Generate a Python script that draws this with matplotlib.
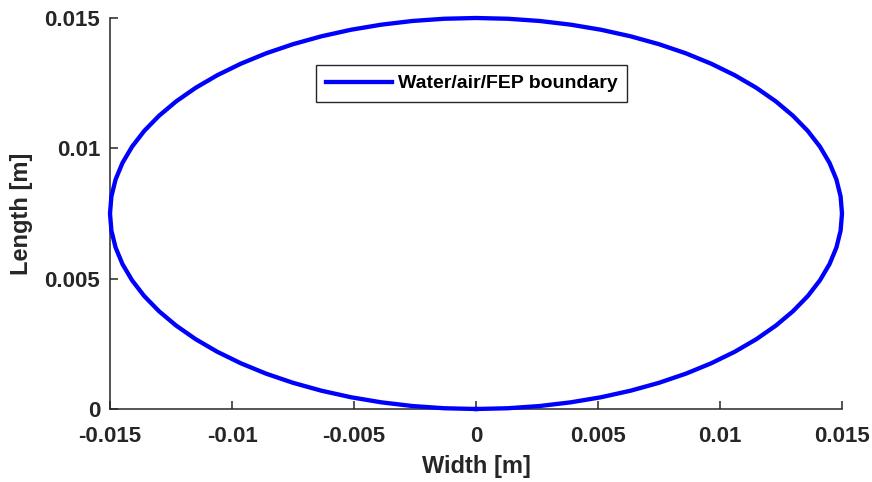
import matplotlib
matplotlib.use("Agg")
import matplotlib.pyplot as plt
from matplotlib.ticker import FuncFormatter

# boundary outline, traced counter-clockwise from the bottom point
width = [
    0, 0.001307, 0.002605, 0.003882, 0.005130, 0.006339, 0.0075, 0.008604,
    0.009642, 0.010607, 0.011491, 0.012287, 0.012990, 0.013595, 0.014095,
    0.014489, 0.014772, 0.014943, 0.015, 0.014943, 0.014772, 0.014489,
    0.014095, 0.013595, 0.012990, 0.012287, 0.011491, 0.010607, 0.009642,
    0.008604, 0.0075, 0.006339, 0.005130, 0.003882, 0.002605, 0.001307, 0,
    -0.001307, -0.002605, -0.003882, -0.005130, -0.006339, -0.0075, -0.008604,
    -0.009642, -0.010607, -0.011491, -0.012287, -0.012990, -0.013595,
    -0.014095, -0.014489, -0.014772, -0.014943, -0.015, -0.014943, -0.014772,
    -0.014489, -0.014095, -0.013595, -0.012990, -0.012287, -0.011491,
    -0.010607, -0.009642, -0.008604, -0.0075, -0.006339, -0.005130, -0.003882,
    -0.002605, -0.001307, 0,
]
length = [
    0, 0.000029, 0.000114, 0.000256, 0.000452, 0.000703, 0.001005, 0.001356,
    0.001755, 0.002197, 0.002679, 0.003198, 0.00375, 0.00433, 0.004935,
    0.005559, 0.006198, 0.006846, 0.0075, 0.008154, 0.008802, 0.009441,
    0.010065, 0.01067, 0.01125, 0.011802, 0.012321, 0.012803, 0.013245,
    0.013644, 0.013995, 0.014297, 0.014548, 0.014744, 0.014886, 0.014971,
    0.015, 0.014971, 0.014886, 0.014744, 0.014548, 0.014297, 0.013995,
    0.013644, 0.013245, 0.012803, 0.012321, 0.011802, 0.01125, 0.01067,
    0.010065, 0.009441, 0.008802, 0.008154, 0.0075, 0.006846, 0.006198,
    0.005559, 0.004935, 0.00433, 0.00375, 0.003198, 0.002679, 0.002197,
    0.001755, 0.001356, 0.001005, 0.000703, 0.000452, 0.000256, 0.000114,
    0.000029, 0,
]
x_ticks = [-0.015, -0.01, -0.005, 0, 0.005, 0.01, 0.015]
y_ticks = [0, 0.005, 0.01, 0.015]

plt.rcParams["font.family"] = ["Liberation Sans", "DejaVu Sans"]
plt.rcParams["font.weight"] = "bold"
plt.rcParams["axes.unicode_minus"] = False

axis_col = "#262626"

fig = plt.figure(figsize=(8.72, 4.82), dpi=100)
ax = fig.add_axes([110 / 872, 73 / 482, 732 / 872, 391 / 482])

ax.plot(width, length, color="#0000ff", lw=3.1, label="Water/air/FEP boundary",
        solid_joinstyle="round", clip_on=False, zorder=3)

ax.set_xlim(-0.015, 0.015)
ax.set_ylim(0, 0.015)
ax.set_xticks(x_ticks)
ax.set_yticks(y_ticks)
fmt = FuncFormatter(lambda v, pos: "%g" % round(v, 6))
ax.xaxis.set_major_formatter(fmt)
ax.yaxis.set_major_formatter(fmt)

for side in ("top", "right"):
    ax.spines[side].set_visible(False)
for side in ("left", "bottom"):
    ax.spines[side].set_color(axis_col)
    ax.spines[side].set_linewidth(1.1)

ax.tick_params(direction="in", length=5.5, width=1.1, color=axis_col,
               labelcolor=axis_col, labelsize=16)
ax.tick_params(axis="y", pad=7)
ax.tick_params(axis="x", pad=12)
for lbl in ax.get_xticklabels() + ax.get_yticklabels():
    lbl.set_fontweight("bold")

ax.set_xlabel("Width [m]", fontsize=17, fontweight="bold", color=axis_col, labelpad=6)
ax.set_ylabel("Length [m]", fontsize=17, fontweight="bold", color=axis_col, labelpad=8)

leg = ax.legend(loc="upper left", bbox_to_anchor=(316 / 872, 1 - 65 / 482),
                bbox_transform=fig.transFigure, fontsize=14, fancybox=False,
                edgecolor=axis_col, framealpha=1, borderaxespad=0,
                borderpad=0.5, handlelength=3.4, handletextpad=0.3)
leg.get_frame().set_linewidth(1.0)
for t in leg.get_texts():
    t.set_fontweight("bold")
    t.set_color("black")

fig.savefig("out.png", dpi=100)
